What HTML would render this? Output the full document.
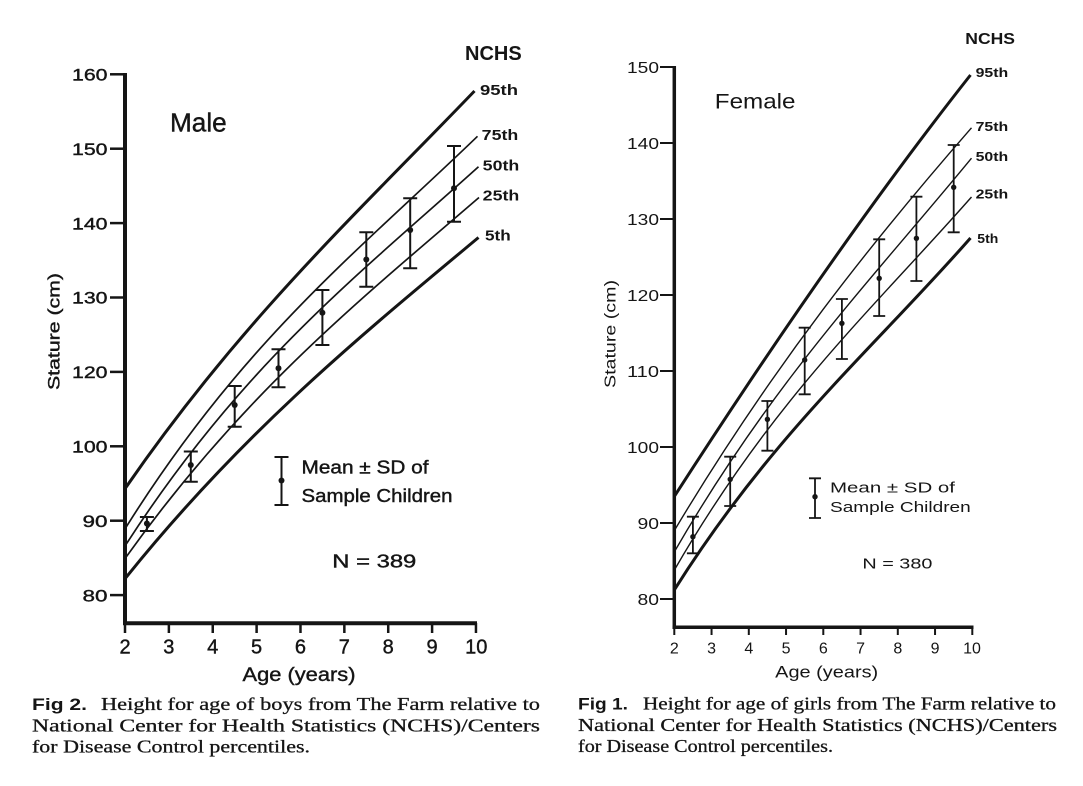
<!DOCTYPE html>
<html>
<head>
<meta charset="utf-8">
<style>
  html, body { margin: 0; padding: 0; background: #ffffff; }
  svg { display: block; }
  .sans { font-family: "Liberation Sans", "DejaVu Sans", sans-serif; fill: #151515; }
  .serif { font-family: "Liberation Serif", "DejaVu Serif", serif; fill: #151515; }
  .heavy { stroke: #151515; stroke-width: 0.4; }
  .cap { stroke: #151515; stroke-width: 0.3; }
</style>
</head>
<body>
<svg width="1083" height="786" viewBox="0 0 1083 786" xmlns="http://www.w3.org/2000/svg">
  <rect x="0" y="0" width="1083" height="786" fill="#ffffff"/>

  <!-- ================= LEFT CHART (Male) ================= -->
  <g stroke="#151515" fill="none" stroke-linecap="butt">
    <line x1="125" y1="73" x2="125" y2="625" stroke-width="4"/>
    <line x1="123" y1="623.3" x2="477" y2="623.3" stroke-width="4"/>
    <g stroke-width="2.5">
      <line x1="110" y1="74.3" x2="125" y2="74.3"/>
      <line x1="110" y1="148.7" x2="125" y2="148.7"/>
      <line x1="110" y1="223.1" x2="125" y2="223.1"/>
      <line x1="110" y1="297.5" x2="125" y2="297.5"/>
      <line x1="110" y1="371.9" x2="125" y2="371.9"/>
      <line x1="110" y1="446.3" x2="125" y2="446.3"/>
      <line x1="110" y1="520.7" x2="125" y2="520.7"/>
      <line x1="110" y1="595.1" x2="125" y2="595.1"/>
    </g>
    <g stroke-width="2.5">
      <line x1="125" y1="623" x2="125" y2="633"/>
      <line x1="168.87" y1="623" x2="168.87" y2="633"/>
      <line x1="212.74" y1="623" x2="212.74" y2="633"/>
      <line x1="256.61" y1="623" x2="256.61" y2="633"/>
      <line x1="300.48" y1="623" x2="300.48" y2="633"/>
      <line x1="344.35" y1="623" x2="344.35" y2="633"/>
      <line x1="388.22" y1="623" x2="388.22" y2="633"/>
      <line x1="432.09" y1="623" x2="432.09" y2="633"/>
      <line x1="475.96" y1="623" x2="475.96" y2="633"/>
    </g>
    <!-- percentile curves (smooth cubic) -->
    <path stroke-width="3" d="M125,488.7 C241.5,319.55 358,212.35 474.5,91"/>
    <path stroke-width="1.7" d="M125,528.9 C242.5,340.55 360,249.81 477.5,136.3"/>
    <path stroke-width="1.7" d="M125,546 C242.83,363.02 360.67,273.07 478.5,166.8"/>
    <path stroke-width="1.7" d="M125,558.6 C243,393.1 361,299.13 479,197.5"/>
    <path stroke-width="3" d="M125,578.7 C242.83,431.77 360.67,335.65 478.5,237.5"/>
    <g stroke-width="2">
      <path d="M146.9,517 V531 M139.9,517 H153.9 M139.9,531 H153.9"/>
      <path d="M190.8,451.5 V481.7 M183.8,451.5 H197.8 M183.8,481.7 H197.8"/>
      <path d="M234.7,386 V426.7 M227.7,386 H241.7 M227.7,426.7 H241.7"/>
      <path d="M278.5,349.3 V387.3 M271.5,349.3 H285.5 M271.5,387.3 H285.5"/>
      <path d="M322.4,290 V345 M315.4,290 H329.4 M315.4,345 H329.4"/>
      <path d="M366.3,232.2 V286.7 M359.3,232.2 H373.3 M359.3,286.7 H373.3"/>
      <path d="M410.2,198.3 V268.3 M403.2,198.3 H417.2 M403.2,268.3 H417.2"/>
      <path d="M454,146 V221.7 M447,146 H461 M447,221.7 H461"/>
      <path d="M281.5,457 V505 M274.5,457 H288.5 M274.5,505 H288.5"/>
    </g>
  </g>
  <g fill="#151515">
    <circle cx="146.9" cy="523.5" r="3"/>
    <circle cx="190.8" cy="465" r="3"/>
    <circle cx="234.7" cy="405" r="3"/>
    <circle cx="278.5" cy="368.3" r="3"/>
    <circle cx="322.4" cy="312.7" r="3"/>
    <circle cx="366.3" cy="259.5" r="3"/>
    <circle cx="410.2" cy="230" r="3"/>
    <circle cx="454" cy="188.3" r="3"/>
    <circle cx="281.5" cy="480.5" r="3"/>
  </g>
  <g class="sans heavy" font-size="17" text-anchor="end">
    <text x="107.5" y="80.5" textLength="35.5" lengthAdjust="spacingAndGlyphs">160</text>
    <text x="107.5" y="154.9" textLength="35.5" lengthAdjust="spacingAndGlyphs">150</text>
    <text x="107.5" y="229.3" textLength="35.5" lengthAdjust="spacingAndGlyphs">140</text>
    <text x="107.5" y="303.7" textLength="35.5" lengthAdjust="spacingAndGlyphs">130</text>
    <text x="107.5" y="378.1" textLength="35.5" lengthAdjust="spacingAndGlyphs">120</text>
    <text x="107.5" y="452.5" textLength="35.5" lengthAdjust="spacingAndGlyphs">100</text>
    <text x="107.5" y="526.9" textLength="25" lengthAdjust="spacingAndGlyphs">90</text>
    <text x="107.5" y="601.3" textLength="25" lengthAdjust="spacingAndGlyphs">80</text>
  </g>
  <g class="sans heavy" font-size="20" text-anchor="middle">
    <text x="125" y="653.3">2</text>
    <text x="168.87" y="653.3">3</text>
    <text x="212.74" y="653.3">4</text>
    <text x="256.61" y="653.3">5</text>
    <text x="300.48" y="653.3">6</text>
    <text x="344.35" y="653.3">7</text>
    <text x="388.22" y="653.3">8</text>
    <text x="432.09" y="653.3">9</text>
    <text x="476.3" y="653.3">10</text>
  </g>
  <text class="sans heavy" font-size="19" x="299" y="681" text-anchor="middle" textLength="113" lengthAdjust="spacingAndGlyphs">Age (years)</text>
  <text class="sans heavy" font-size="17" transform="translate(59.5,331.5) rotate(-90)" text-anchor="middle" textLength="117" lengthAdjust="spacingAndGlyphs">Stature (cm)</text>
  <text class="sans heavy" font-size="25.5" x="170" y="131.7" textLength="56.7" lengthAdjust="spacingAndGlyphs">Male</text>
  <text class="sans" font-size="20" font-weight="bold" x="465" y="60" textLength="56.7" lengthAdjust="spacingAndGlyphs">NCHS</text>
  <g class="sans" font-size="14.5" font-weight="bold">
    <text x="480" y="95" textLength="38" lengthAdjust="spacingAndGlyphs">95th</text>
    <text x="481.7" y="140" textLength="36.6" lengthAdjust="spacingAndGlyphs">75th</text>
    <text x="482.7" y="170.5" textLength="36.6" lengthAdjust="spacingAndGlyphs">50th</text>
    <text x="482.7" y="200.5" textLength="36.6" lengthAdjust="spacingAndGlyphs">25th</text>
    <text x="485" y="240.5" textLength="25.7" lengthAdjust="spacingAndGlyphs">5th</text>
  </g>
  <g class="sans heavy" font-size="18">
    <text x="301.5" y="473.5" textLength="127" lengthAdjust="spacingAndGlyphs">Mean ± SD of</text>
    <text x="301.5" y="502" textLength="151" lengthAdjust="spacingAndGlyphs">Sample Children</text>
    <text x="332.3" y="567.3" textLength="84" lengthAdjust="spacingAndGlyphs">N = 389</text>
  </g>

  <!-- ================= RIGHT CHART (Female) ================= -->
  <g stroke="#151515" fill="none" stroke-linecap="butt">
    <line x1="674.3" y1="66" x2="674.3" y2="629" stroke-width="3.5"/>
    <line x1="672.5" y1="627.3" x2="973.5" y2="627.3" stroke-width="3.5"/>
    <g stroke-width="2">
      <line x1="660" y1="67" x2="674.3" y2="67"/>
      <line x1="660" y1="143" x2="674.3" y2="143"/>
      <line x1="660" y1="219" x2="674.3" y2="219"/>
      <line x1="660" y1="295" x2="674.3" y2="295"/>
      <line x1="660" y1="371" x2="674.3" y2="371"/>
      <line x1="660" y1="447" x2="674.3" y2="447"/>
      <line x1="660" y1="523" x2="674.3" y2="523"/>
      <line x1="660" y1="599" x2="674.3" y2="599"/>
    </g>
    <g stroke-width="2">
      <line x1="674.3" y1="627" x2="674.3" y2="635"/>
      <line x1="711.55" y1="627" x2="711.55" y2="635"/>
      <line x1="748.8" y1="627" x2="748.8" y2="635"/>
      <line x1="786.05" y1="627" x2="786.05" y2="635"/>
      <line x1="823.3" y1="627" x2="823.3" y2="635"/>
      <line x1="860.55" y1="627" x2="860.55" y2="635"/>
      <line x1="897.8" y1="627" x2="897.8" y2="635"/>
      <line x1="935.05" y1="627" x2="935.05" y2="635"/>
      <line x1="972.3" y1="627" x2="972.3" y2="635"/>
    </g>
    <path stroke-width="3" d="M674.3,496.4 C773.03,343.29 871.77,200.15 970.5,75"/>
    <path stroke-width="1.4" d="M674.3,530.6 C773.37,365.1 872.43,241.31 971.5,127.8"/>
    <path stroke-width="1.4" d="M674.3,551.9 C773.37,380.18 872.43,278.93 971.5,158.2"/>
    <path stroke-width="1.4" d="M674.3,570.1 C773.37,398.57 872.43,309.56 971.5,197"/>
    <path stroke-width="3" d="M674.3,589.9 C773.03,433.36 871.77,350.4 970.5,238"/>
    <g stroke-width="1.8">
      <path d="M692.9,516.7 V553.3 M686.9,516.7 H698.9 M686.9,553.3 H698.9"/>
      <path d="M730.2,456.7 V506 M724.2,456.7 H736.2 M724.2,506 H736.2"/>
      <path d="M767.4,401 V450.7 M761.4,401 H773.4 M761.4,450.7 H773.4"/>
      <path d="M804.7,327.7 V394.3 M798.7,327.7 H810.7 M798.7,394.3 H810.7"/>
      <path d="M841.9,299 V359 M835.9,299 H847.9 M835.9,359 H847.9"/>
      <path d="M879.2,239.3 V316 M873.2,239.3 H885.2 M873.2,316 H885.2"/>
      <path d="M916.4,196.7 V281 M910.4,196.7 H922.4 M910.4,281 H922.4"/>
      <path d="M953.7,145 V232.3 M947.7,145 H959.7 M947.7,232.3 H959.7"/>
      <path d="M815,478.3 V518 M809,478.3 H821 M809,518 H821"/>
    </g>
  </g>
  <g fill="#151515">
    <circle cx="692.9" cy="536.7" r="2.7"/>
    <circle cx="730.2" cy="479.3" r="2.7"/>
    <circle cx="767.4" cy="419.3" r="2.7"/>
    <circle cx="804.7" cy="360" r="2.7"/>
    <circle cx="841.9" cy="323.3" r="2.7"/>
    <circle cx="879.2" cy="278.3" r="2.7"/>
    <circle cx="916.4" cy="238.3" r="2.7"/>
    <circle cx="953.7" cy="187.3" r="2.7"/>
    <circle cx="815" cy="496.7" r="2.7"/>
  </g>
  <g class="sans" font-size="16" text-anchor="end">
    <text x="659" y="72.8" textLength="32" lengthAdjust="spacingAndGlyphs">150</text>
    <text x="659" y="148.8" textLength="32" lengthAdjust="spacingAndGlyphs">140</text>
    <text x="659" y="224.8" textLength="32" lengthAdjust="spacingAndGlyphs">130</text>
    <text x="659" y="300.8" textLength="32" lengthAdjust="spacingAndGlyphs">120</text>
    <text x="659" y="376.8" textLength="32" lengthAdjust="spacingAndGlyphs">110</text>
    <text x="659" y="452.8" textLength="32" lengthAdjust="spacingAndGlyphs">100</text>
    <text x="659" y="528.8" textLength="21.5" lengthAdjust="spacingAndGlyphs">90</text>
    <text x="659" y="604.8" textLength="21.5" lengthAdjust="spacingAndGlyphs">80</text>
  </g>
  <g class="sans" font-size="16" text-anchor="middle">
    <text x="674.3" y="653.5">2</text>
    <text x="711.55" y="653.5">3</text>
    <text x="748.8" y="653.5">4</text>
    <text x="786.05" y="653.5">5</text>
    <text x="823.3" y="653.5">6</text>
    <text x="860.55" y="653.5">7</text>
    <text x="897.8" y="653.5">8</text>
    <text x="935.05" y="653.5">9</text>
    <text x="972" y="653.5">10</text>
  </g>
  <text class="sans" font-size="17" x="826.7" y="677.3" text-anchor="middle" textLength="103" lengthAdjust="spacingAndGlyphs">Age (years)</text>
  <text class="sans" font-size="15.5" transform="translate(615.5,334) rotate(-90)" text-anchor="middle" textLength="108" lengthAdjust="spacingAndGlyphs">Stature (cm)</text>
  <text class="sans" font-size="21" x="714.8" y="108.3" textLength="80.7" lengthAdjust="spacingAndGlyphs">Female</text>
  <text class="sans" font-size="16" font-weight="bold" x="965.3" y="44" textLength="49.7" lengthAdjust="spacingAndGlyphs">NCHS</text>
  <g class="sans" font-size="12.5" font-weight="bold">
    <text x="975.6" y="77.2" textLength="32.6" lengthAdjust="spacingAndGlyphs">95th</text>
    <text x="975.6" y="131.2" textLength="32.6" lengthAdjust="spacingAndGlyphs">75th</text>
    <text x="975.6" y="161.2" textLength="32.6" lengthAdjust="spacingAndGlyphs">50th</text>
    <text x="975.6" y="198.5" textLength="32.6" lengthAdjust="spacingAndGlyphs">25th</text>
    <text x="977.3" y="242.8" textLength="21" lengthAdjust="spacingAndGlyphs">5th</text>
  </g>
  <g class="sans" font-size="15">
    <text x="830" y="492.3" textLength="125" lengthAdjust="spacingAndGlyphs">Mean  ±  SD of</text>
    <text x="830" y="511.8" textLength="140.7" lengthAdjust="spacingAndGlyphs">Sample Children</text>
    <text x="862.4" y="568.5" textLength="70" lengthAdjust="spacingAndGlyphs">N = 380</text>
  </g>

  <!-- ================= CAPTIONS ================= -->
  <text class="sans" font-size="17" font-weight="bold" x="32" y="710" textLength="55" lengthAdjust="spacingAndGlyphs">Fig 2.</text>
  <g class="serif cap" font-size="18">
    <text x="101" y="710" textLength="439" lengthAdjust="spacingAndGlyphs">Height for age of boys from The Farm relative to</text>
    <text x="32" y="731.5" textLength="508" lengthAdjust="spacingAndGlyphs">National Center for Health Statistics (NCHS)/Centers</text>
    <text x="32" y="752.5" textLength="278" lengthAdjust="spacingAndGlyphs">for Disease Control percentiles.</text>
  </g>

  <text class="sans" font-size="16.5" font-weight="bold" x="578" y="709.5" textLength="50" lengthAdjust="spacingAndGlyphs">Fig 1.</text>
  <g class="serif cap" font-size="17.5">
    <text x="643" y="709.5" textLength="413" lengthAdjust="spacingAndGlyphs">Height for age of girls from The Farm relative to</text>
    <text x="578" y="730.8" textLength="479" lengthAdjust="spacingAndGlyphs">National Center for Health Statistics (NCHS)/Centers</text>
    <text x="578" y="751.8" textLength="255" lengthAdjust="spacingAndGlyphs">for Disease Control percentiles.</text>
  </g>
</svg>
</body>
</html>
